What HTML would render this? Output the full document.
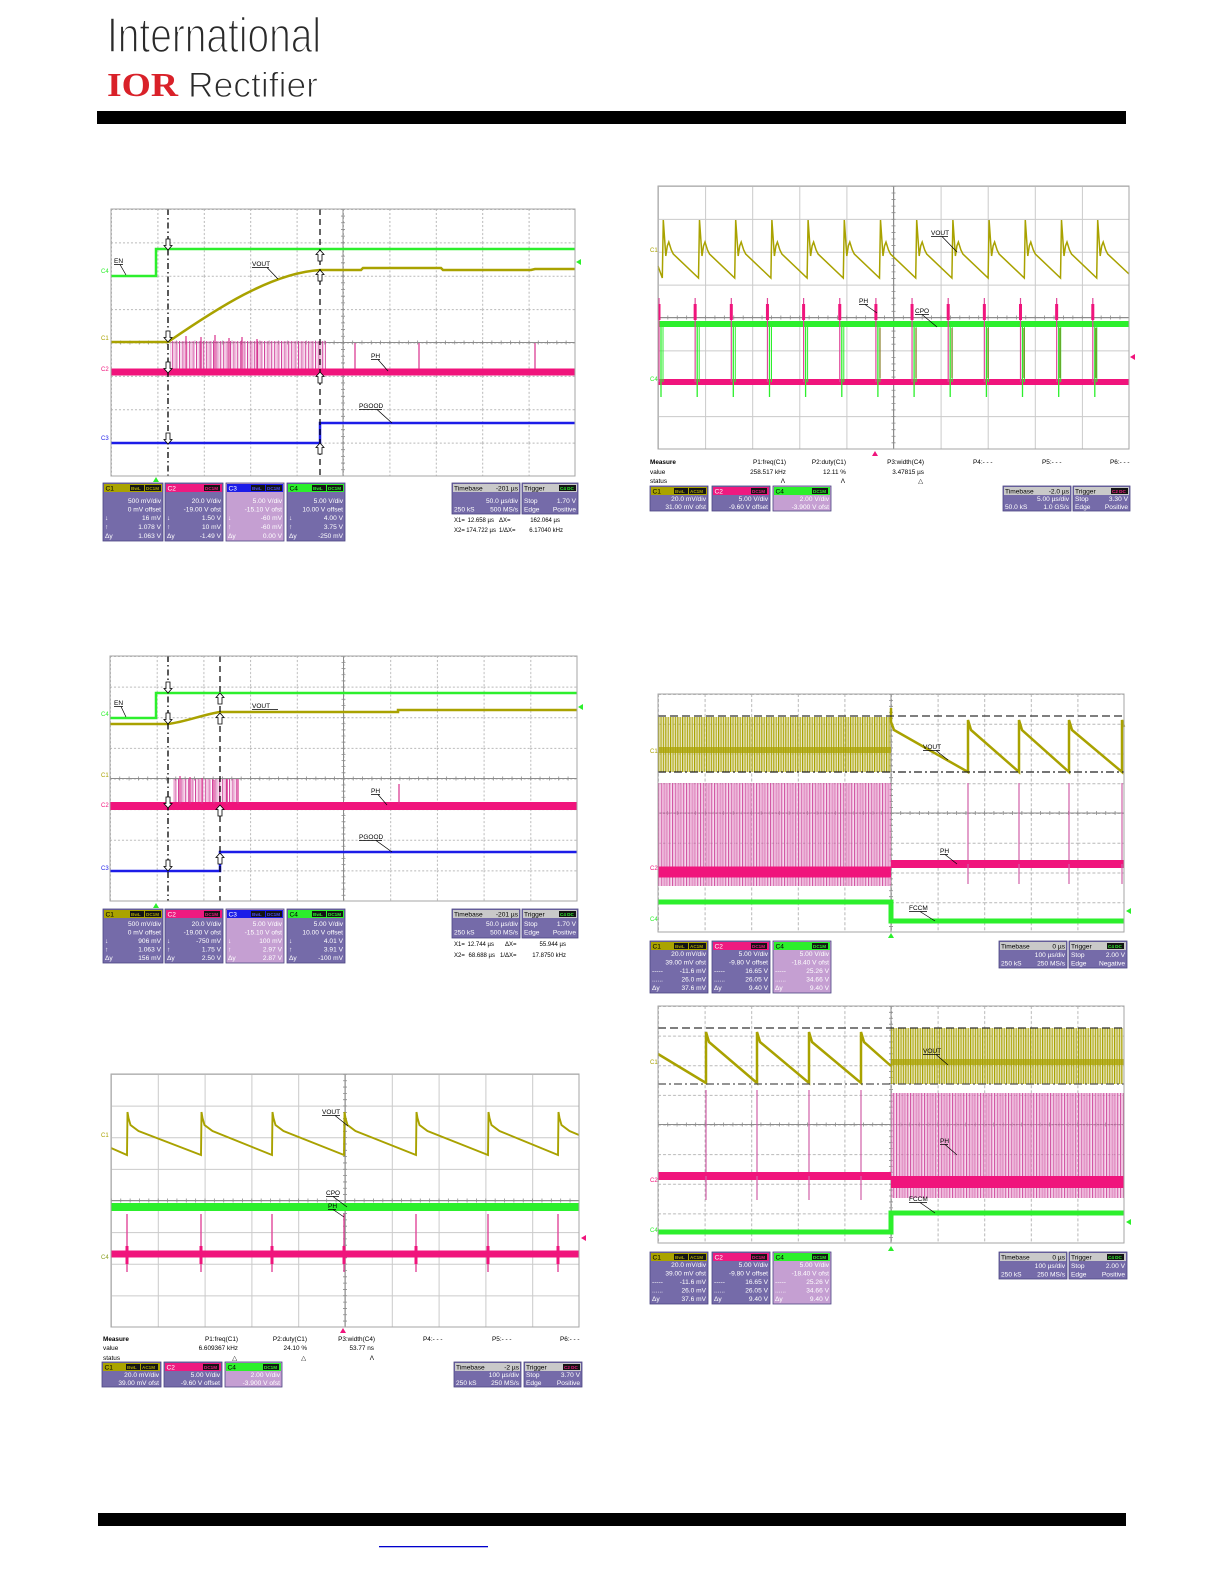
<!DOCTYPE html>
<html><head><meta charset="utf-8">
<style>
html,body{margin:0;padding:0;background:#fff;}
svg{display:block;}
.pt{font:6.6px "Liberation Sans",sans-serif;fill:#fff;}
.pe{text-anchor:end;}
.hd{font:6.6px "Liberation Sans",sans-serif;fill:#000;}
.hw{font:6.6px "Liberation Sans",sans-serif;fill:#fff;}
.bd{font:bold 4.6px "Liberation Sans",sans-serif;}
.mt{font:6.4px "Liberation Sans",sans-serif;fill:#000;}
.xt{font:6px "Liberation Sans",sans-serif;fill:#000;}
.mb{font:bold 6.4px "Liberation Sans",sans-serif;fill:#000;}
.lb{font:6.5px "Liberation Sans",sans-serif;fill:#000;}
.cl{font:6px "Liberation Sans",sans-serif;}
.pb{fill:#756ba9;stroke:#4b4583;stroke-width:.8;}
.pl{fill:#c59fd2;stroke:#4b4583;stroke-width:.8;}
.ax{stroke:#8c8c8c;stroke-width:1;}
.tk{stroke:#8c8c8c;stroke-width:4;}
.bx{fill:none;stroke:#a6a6a6;stroke-width:1;}
.ul{stroke:#000;stroke-width:.7;fill:none;}
.ol{stroke:#a9a200;fill:none;}
.pk{stroke:#f0147c;fill:none;}
.gr{stroke:#2cef2c;fill:none;}
.bl{stroke:#1c1ce8;fill:none;}
</style></head>
<body>
<svg width="1224" height="1584" viewBox="0 0 1224 1584" xmlns="http://www.w3.org/2000/svg">
<defs>
<pattern id="gA" width="46.4" height="33.375" patternUnits="userSpaceOnUse"><path d="M0.5,0V33.375M0,0.5H46.4" stroke="#b8b8b8" stroke-width="1" stroke-dasharray="2,2" fill="none"/></pattern>
<pattern id="gC" width="46.7" height="30.625" patternUnits="userSpaceOnUse"><path d="M0.5,0V30.625M0,0.5H46.7" stroke="#b8b8b8" stroke-width="1" stroke-dasharray="2,2" fill="none"/></pattern>
<pattern id="gB" width="47.1" height="32.875" patternUnits="userSpaceOnUse"><path d="M0.5,0V32.875M0,0.5H47.1" stroke="#cacaca" stroke-width="1" fill="none"/></pattern>
<pattern id="gD" width="46.8" height="31.625" patternUnits="userSpaceOnUse"><path d="M0.5,0V31.625M0,0.5H46.8" stroke="#cacaca" stroke-width="1" fill="none"/></pattern>
<pattern id="gE" width="46.6" height="29.75" patternUnits="userSpaceOnUse"><path d="M0.5,0V29.75M0,0.5H46.6" stroke="#b8b8b8" stroke-width="1" stroke-dasharray="3,2" fill="none"/></pattern>
<pattern id="gF" width="46.6" height="29.625" patternUnits="userSpaceOnUse"><path d="M0.5,0V29.625M0,0.5H46.6" stroke="#b8b8b8" stroke-width="1" stroke-dasharray="3,2" fill="none"/></pattern>
<pattern id="pkA" width="3.4" height="40" patternUnits="userSpaceOnUse"><rect width="1" height="40" fill="#d0409a"/><rect x="1.7" width="0.7" height="40" fill="#e89ccc"/></pattern>
<pattern id="dPk" width="2.8" height="40" patternUnits="userSpaceOnUse"><rect width="1" height="40" fill="#d050a0"/><rect x="1.4" width="0.8" height="40" fill="#e8a0d0"/></pattern>
<pattern id="dOl" width="2.4" height="40" patternUnits="userSpaceOnUse"><rect width="1.1" height="40" fill="#a9a200"/><rect x="1.2" width="0.6" height="40" fill="#cac670"/></pattern>
<g id="ad"><polygon points="-2,-11 2,-11 2,-4.5 4,-4.5 0,0 -4,-4.5 -2,-4.5" fill="#fff" stroke="#000" stroke-width=".8"/></g>
<g id="au"><polygon points="-2,11 2,11 2,4.5 4,4.5 0,0 -4,4.5 -2,4.5" fill="#fff" stroke="#000" stroke-width=".8"/></g>
</defs>

<!-- Logo -->
<text x="107" y="52" font-family="Liberation Sans, sans-serif" font-size="49" fill="#2a2a2a" stroke="#fff" stroke-width="1.6" textLength="214" lengthAdjust="spacingAndGlyphs">International</text>
<text x="107" y="96" font-family="Liberation Serif, serif" font-weight="bold" font-size="34" fill="#d92129" textLength="71" lengthAdjust="spacingAndGlyphs">IOR</text>
<text x="188" y="97" font-family="Liberation Sans, sans-serif" font-size="35" fill="#2a2a2a" stroke="#fff" stroke-width="1.1" textLength="130" lengthAdjust="spacingAndGlyphs">Rectifier</text>
<rect x="97" y="111" width="1029" height="13" fill="#000"/>
<rect x="98" y="1513" width="1028" height="13" fill="#000"/>
<rect x="379" y="1546" width="109" height="1.3" fill="#0000cc"/>

<!-- ===== Scope A ===== -->
<g transform="translate(111,209)">
<rect width="464" height="267" fill="url(#gA)"/>
<line x1="232" y1="0" x2="232" y2="267" class="ax"/>
<line x1="0" y1="133.5" x2="464" y2="133.5" class="ax"/>
<line x1="232" y1="0" x2="232" y2="267" class="tk" stroke-dasharray="0.8 5.875"/>
<line x1="0" y1="133.5" x2="464" y2="133.5" class="tk" stroke-dasharray="0.8 8.48"/>
<path d="M0,234H209V214H464" class="bl" stroke-width="2.5"/>
<rect x="59" y="132" width="156" height="29" fill="url(#pkA)"/>
<path d="M0,163H464" class="pk" stroke-width="7"/>
<path d="M75,160V127M90,160V128M104,160V126M118,160V129M131,160V128M146,160V130M244,160V134M308,160V134M424,160V134" stroke="#d8308c" stroke-width="1.2"/>
<path d="M0,133H57C105,100 160,64 209,61H250L252,59H330L332,61H420L424,60H464" class="ol" stroke-width="2.5"/>
<path d="M0,67H45V40H464" class="gr" stroke-width="2.5"/>
<line x1="57" y1="0" x2="57" y2="267" stroke="#000" stroke-width="1.3" stroke-dasharray="6,3,1.5,3"/>
<line x1="209" y1="0" x2="209" y2="267" stroke="#000" stroke-width="1.2" stroke-dasharray="6,4"/>
<use href="#ad" transform="translate(57,41)"/><use href="#ad" transform="translate(57,133)"/><use href="#ad" transform="translate(57,164)"/><use href="#ad" transform="translate(57,235)"/>
<use href="#au" transform="translate(209,41)"/><use href="#au" transform="translate(209,61)"/><use href="#au" transform="translate(209,163)"/><use href="#au" transform="translate(209,234)"/>
<text x="3" y="54" class="lb">EN</text><path d="M3,55.5H12M9,55.5L15,66" class="ul"/>
<text x="141" y="57" class="lb">VOUT</text><path d="M141,58.5H158M156,58.5L167,70" class="ul"/>
<text x="260" y="149" class="lb">PH</text><path d="M260,150.5H269M267,150.5L277,162" class="ul"/>
<text x="248" y="199" class="lb">PGOOD</text><path d="M248,200.5H271M266,200.5L281,214" class="ul"/>
<rect width="464" height="267" class="bx"/>
</g>
<text x="101" y="273" class="cl" fill="#2cef2c">C4</text>
<text x="101" y="340" class="cl" fill="#a9a200">C1</text>
<text x="101" y="371" class="cl" fill="#f0147c">C2</text>
<text x="101" y="440" class="cl" fill="#1c1ce8">C3</text>
<polygon points="153,482 159,482 156,477" fill="#2cef2c"/>
<polygon points="576,262 581,259 581,265" fill="#2cef2c"/>

<!-- Panel A -->
<g>
<rect x="103" y="483" width="60" height="58" class="pb"/><rect x="104" y="484" width="58" height="8" fill="#aaa300"/>
<text x="105.5" y="490.5" class="hd">C1</text>
<rect x="130" y="485" width="14" height="6" fill="#141414"/><text x="131" y="489.8" class="bd" fill="#aaa300">BwL</text>
<rect x="145" y="485" width="16" height="6" fill="#141414"/><text x="146" y="489.8" class="bd" fill="#aaa300">DC1M</text>
<text x="161" y="503" class="pt pe">500 mV/div</text><text x="161" y="511.5" class="pt pe">0 mV offset</text>
<text x="161" y="520" class="pt pe">16 mV</text><text x="161" y="529" class="pt pe">1.078 V</text><text x="161" y="538" class="pt pe">1.063 V</text>
<text x="105" y="520" class="pt">↓</text><text x="105" y="529" class="pt">↑</text><text x="105" y="538" class="pt">Δy</text>

<rect x="165" y="483" width="58" height="58" class="pb"/><rect x="166" y="484" width="56" height="8" fill="#ee1a80"/>
<text x="167.5" y="490.5" class="hw">C2</text>
<rect x="204" y="485" width="16" height="6" fill="#141414"/><text x="205" y="489.8" class="bd" fill="#ee1a80">DC1M</text>
<text x="221" y="503" class="pt pe">20.0 V/div</text><text x="221" y="511.5" class="pt pe">-19.00 V ofst</text>
<text x="221" y="520" class="pt pe">1.50 V</text><text x="221" y="529" class="pt pe">10 mV</text><text x="221" y="538" class="pt pe">-1.49 V</text>
<text x="167" y="520" class="pt">↓</text><text x="167" y="529" class="pt">↑</text><text x="167" y="538" class="pt">Δy</text>

<rect x="226" y="483" width="58" height="58" class="pl"/><rect x="227" y="484" width="56" height="8" fill="#1c1ce8"/>
<text x="228.5" y="490.5" class="hw">C3</text>
<rect x="251" y="485" width="14" height="6" fill="#141414"/><text x="252" y="489.8" class="bd" fill="#4a4af0">BwL</text>
<rect x="266" y="485" width="16" height="6" fill="#141414"/><text x="267" y="489.8" class="bd" fill="#4a4af0">DC1M</text>
<text x="282" y="503" class="pt pe">5.00 V/div</text><text x="282" y="511.5" class="pt pe">-15.10 V ofst</text>
<text x="282" y="520" class="pt pe">-60 mV</text><text x="282" y="529" class="pt pe">-60 mV</text><text x="282" y="538" class="pt pe">0.00 V</text>
<text x="228" y="520" class="pt">↓</text><text x="228" y="529" class="pt">↑</text><text x="228" y="538" class="pt">Δy</text>

<rect x="287" y="483" width="58" height="58" class="pb"/><rect x="288" y="484" width="56" height="8" fill="#2cef2c"/>
<text x="289.5" y="490.5" class="hd">C4</text>
<rect x="312" y="485" width="14" height="6" fill="#141414"/><text x="313" y="489.8" class="bd" fill="#2cef2c">BwL</text>
<rect x="327" y="485" width="16" height="6" fill="#141414"/><text x="328" y="489.8" class="bd" fill="#2cef2c">DC1M</text>
<text x="343" y="503" class="pt pe">5.00 V/div</text><text x="343" y="511.5" class="pt pe">10.00 V offset</text>
<text x="343" y="520" class="pt pe">4.00 V</text><text x="343" y="529" class="pt pe">3.75 V</text><text x="343" y="538" class="pt pe">-250 mV</text>
<text x="289" y="520" class="pt">↓</text><text x="289" y="529" class="pt">↑</text><text x="289" y="538" class="pt">Δy</text>

<rect x="452" y="483" width="68" height="31" class="pb"/><rect x="453" y="484" width="66" height="8" fill="#c9c9c9"/>
<text x="454" y="490.5" class="hd">Timebase</text><text x="518" y="490.5" class="hd pe">-201 µs</text>
<text x="518" y="503" class="pt pe">50.0 µs/div</text>
<text x="454" y="511.5" class="pt">250 kS</text><text x="518" y="511.5" class="pt pe">500 MS/s</text>
<rect x="522" y="483" width="56" height="31" class="pb"/><rect x="523" y="484" width="54" height="8" fill="#c9c9c9"/>
<text x="524" y="490.5" class="hd">Trigger</text>
<rect x="559" y="485" width="17" height="6" fill="#141414"/><text x="560" y="489.8" class="bd" fill="#2cef2c">C4 DC</text>
<text x="524" y="503" class="pt">Stop</text><text x="576" y="503" class="pt pe">1.70 V</text>
<text x="524" y="511.5" class="pt">Edge</text><text x="576" y="511.5" class="pt pe">Positive</text>
<text x="454" y="522" class="xt">X1=</text><text x="494" y="522" class="xt pe">12.658 µs</text><text x="499" y="522" class="xt">ΔX=</text><text x="560" y="522" class="xt pe">162.064 µs</text>
<text x="454" y="532" class="xt">X2=</text><text x="496" y="532" class="xt pe">174.722 µs</text><text x="499" y="532" class="xt">1/ΔX=</text><text x="563" y="532" class="xt pe">6.17040 kHz</text>
</g>

<!-- ===== Scope B ===== -->
<g transform="translate(658,186)">
<rect width="471" height="263" fill="url(#gB)"/>
<line x1="235.5" y1="0" x2="235.5" y2="263" class="ax"/>
<line x1="0" y1="131.5" x2="471" y2="131.5" class="ax"/>
<line x1="235.5" y1="0" x2="235.5" y2="263" class="tk" stroke-dasharray="0.8 5.775"/>
<line x1="0" y1="131.5" x2="471" y2="131.5" class="tk" stroke-dasharray="0.8 8.62"/>
<path d="M0,196H471" class="pk" stroke-width="6"/>
<path d="M0,138H471" class="gr" stroke-width="6"/>
<path d="M3,138V211M39.2,138V211M75.3,138V211M111.5,138V211M147.6,138V211M183.8,138V211M219.9,138V211M256.1,138V211M292.2,138V211M328.4,138V211M364.5,138V211M400.7,138V211M436.8,138V211" class="gr" stroke-width="1.3"/>
<path d="M5,138V196M41.2,138V196M77.3,138V196M113.5,138V196M149.6,138V196M185.8,138V196M221.9,138V196M258.1,138V196M294.2,138V196M330.4,138V196M366.5,138V196M402.7,138V196M438.8,138V196" class="gr" stroke-width="1"/>
<path d="M222,142V192M258,142V192M294,142V192M330,142V192M366,142V192M402,142V192M438,142V192" stroke="#8a7f2a" stroke-width="1.2"/>
<path d="M1,196V112M37.15,196V112M73.3,196V112M109.45,196V112M145.6,196V112M181.75,196V112M217.9,196V112M254.05,196V112M290.2,196V112M326.35,196V112M362.5,196V112M398.65,196V112M434.8,196V112" stroke="#e0479a" stroke-width="1.2"/>
<path d="M1,118V134M37.15,118V134M73.3,118V134M109.45,118V134M145.6,118V134M181.75,118V134M217.9,118V134M254.05,118V134M290.2,118V134M326.35,118V134M362.5,118V134M398.65,118V134M434.8,118V134" class="pk" stroke-width="3"/>
<path d="M0,80L4.3,92l1,-58l2.5,36l1.5,-10l1.5,-4l2.5,8l2,4l25.2,24l1,-58l2.5,36l1.5,-10l1.5,-4l2.5,8l2,4l25.2,24l1,-58l2.5,36l1.5,-10l1.5,-4l2.5,8l2,4l25.2,24l1,-58l2.5,36l1.5,-10l1.5,-4l2.5,8l2,4l25.2,24l1,-58l2.5,36l1.5,-10l1.5,-4l2.5,8l2,4l25.2,24l1,-58l2.5,36l1.5,-10l1.5,-4l2.5,8l2,4l25.2,24l1,-58l2.5,36l1.5,-10l1.5,-4l2.5,8l2,4l25.2,24l1,-58l2.5,36l1.5,-10l1.5,-4l2.5,8l2,4l25.2,24l1,-58l2.5,36l1.5,-10l1.5,-4l2.5,8l2,4l25.2,24l1,-58l2.5,36l1.5,-10l1.5,-4l2.5,8l2,4l25.2,24l1,-58l2.5,36l1.5,-10l1.5,-4l2.5,8l2,4l25.2,24l1,-58l2.5,36l1.5,-10l1.5,-4l2.5,8l2,4l25.2,24l1,-58l2.5,36l1.5,-10l1.5,-4l2.5,8l2,4l21.3,20" class="ol" stroke-width="1.5"/>
<text x="273" y="49" class="lb">VOUT</text><path d="M273,50.5H290M284,50.5L299,66" class="ul"/>
<text x="201" y="117" class="lb">PH</text><path d="M201,118.5H210M207,118.5L219,127" class="ul"/>
<text x="257" y="127" class="lb">CPO</text><path d="M257,128.5H271M264,128.5L279,141" class="ul"/>
<rect width="471" height="263" class="bx"/>
</g>
<text x="650" y="252" class="cl" fill="#a9a200">C1</text>
<text x="650" y="381" class="cl" fill="#2cef2c">C4</text>
<polygon points="1130,357 1135,354 1135,360" fill="#f0147c"/>
<polygon points="872,456 878,456 875,451" fill="#f0147c"/>
<text x="650" y="464" class="mb">Measure</text><text x="650" y="474" class="mt">value</text><text x="650" y="483" class="mt">status</text>
<text x="786" y="464" class="mt pe">P1:freq(C1)</text><text x="786" y="474" class="mt pe">258.517 kHz</text><text x="785" y="483" class="mt pe">Λ</text>
<text x="846" y="464" class="mt pe">P2:duty(C1)</text><text x="846" y="474" class="mt pe">12.11 %</text><text x="845" y="483" class="mt pe">Λ</text>
<text x="924" y="464" class="mt pe">P3:width(C4)</text><text x="924" y="474" class="mt pe">3.47815 µs</text><text x="923" y="483" class="mt pe">△</text>
<text x="973" y="464" class="mt">P4:- - -</text><text x="1042" y="464" class="mt">P5:- - -</text><text x="1110" y="464" class="mt">P6:- - -</text>
<!-- Panel B -->
<g>
<rect x="650" y="486" width="58" height="25" class="pb"/><rect x="651" y="487" width="56" height="8" fill="#aaa300"/>
<text x="652.5" y="493.5" class="hd">C1</text>
<rect x="674" y="488" width="14" height="6" fill="#141414"/><text x="675" y="492.8" class="bd" fill="#aaa300">BwL</text>
<rect x="689" y="488" width="17" height="6" fill="#141414"/><text x="690" y="492.8" class="bd" fill="#aaa300">AC1M</text>
<text x="706" y="501" class="pt pe">20.0 mV/div</text><text x="706" y="509" class="pt pe">31.00 mV ofst</text>
<rect x="712" y="486" width="58" height="25" class="pb"/><rect x="713" y="487" width="56" height="8" fill="#ee1a80"/>
<text x="714.5" y="493.5" class="hw">C2</text>
<rect x="751" y="488" width="16" height="6" fill="#141414"/><text x="752" y="492.8" class="bd" fill="#ee1a80">DC1M</text>
<text x="768" y="501" class="pt pe">5.00 V/div</text><text x="768" y="509" class="pt pe">-9.60 V offset</text>
<rect x="773" y="486" width="58" height="25" class="pl"/><rect x="774" y="487" width="56" height="8" fill="#2cef2c"/>
<text x="775.5" y="493.5" class="hd">C4</text>
<rect x="812" y="488" width="16" height="6" fill="#141414"/><text x="813" y="492.8" class="bd" fill="#2cef2c">DC1M</text>
<text x="829" y="501" class="pt pe">2.00 V/div</text><text x="829" y="509" class="pt pe">-3.900 V ofst</text>
<rect x="1003" y="486" width="68" height="25" class="pb"/><rect x="1004" y="487" width="66" height="8" fill="#c9c9c9"/>
<text x="1005" y="493.5" class="hd">Timebase</text><text x="1069" y="493.5" class="hd pe">-2.0 µs</text>
<text x="1069" y="501" class="pt pe">5.00 µs/div</text>
<text x="1005" y="509" class="pt">50.0 kS</text><text x="1069" y="509" class="pt pe">1.0 GS/s</text>
<rect x="1073" y="486" width="57" height="25" class="pb"/><rect x="1074" y="487" width="55" height="8" fill="#c9c9c9"/>
<text x="1075" y="493.5" class="hd">Trigger</text>
<rect x="1111" y="488" width="17" height="6" fill="#141414"/><text x="1112" y="492.8" class="bd" fill="#ee1a80">C2 DC</text>
<text x="1075" y="501" class="pt">Stop</text><text x="1128" y="501" class="pt pe">3.30 V</text>
<text x="1075" y="509" class="pt">Edge</text><text x="1128" y="509" class="pt pe">Positive</text>
</g>

<!-- ===== Scope C ===== -->
<g transform="translate(110,656)">
<rect width="467" height="245" fill="url(#gC)"/>
<line x1="233.5" y1="0" x2="233.5" y2="245" class="ax"/>
<line x1="0" y1="122.5" x2="467" y2="122.5" class="ax"/>
<line x1="233.5" y1="0" x2="233.5" y2="245" class="tk" stroke-dasharray="0.8 5.325"/>
<line x1="0" y1="122.5" x2="467" y2="122.5" class="tk" stroke-dasharray="0.8 8.54"/>
<path d="M0,215H110V196H467" class="bl" stroke-width="2.5"/>
<rect x="63" y="123" width="65" height="25" fill="url(#pkA)"/>
<path d="M0,150H467" class="pk" stroke-width="8"/>
<path d="M70,148V120M80,148V121M92,148V122M104,148V124M117,148V123M128,148V123M289,148V128" stroke="#d8308c" stroke-width="1.2"/>
<path d="M0,68H58C75,66 95,58 110,56H288V54H467" class="ol" stroke-width="2.5"/>
<path d="M0,62H46V37H467" class="gr" stroke-width="2.5"/>
<line x1="58" y1="0" x2="58" y2="245" stroke="#000" stroke-width="1.3" stroke-dasharray="6,3,1.5,3"/>
<line x1="110" y1="0" x2="110" y2="245" stroke="#000" stroke-width="1.2" stroke-dasharray="6,4"/>
<use href="#ad" transform="translate(58,37)"/><use href="#ad" transform="translate(58,68)"/><use href="#ad" transform="translate(58,152)"/><use href="#ad" transform="translate(58,215)"/>
<use href="#au" transform="translate(110,37)"/><use href="#au" transform="translate(110,57)"/><use href="#au" transform="translate(110,149)"/><use href="#au" transform="translate(110,197)"/>
<text x="4" y="49" class="lb">EN</text><path d="M4,50.5H13M11,50.5L16,61" class="ul"/>
<text x="142" y="52" class="lb">VOUT</text><path d="M142,53.5H168" class="ul"/>
<text x="261" y="137" class="lb">PH</text><path d="M261,138.5H270M268,138.5L277,149" class="ul"/>
<text x="249" y="183" class="lb">PGOOD</text><path d="M249,184.5H272M266,184.5L282,196" class="ul"/>
<rect width="467" height="245" class="bx"/>
</g>
<text x="101" y="716" class="cl" fill="#2cef2c">C4</text>
<text x="101" y="777" class="cl" fill="#a9a200">C1</text>
<text x="101" y="807" class="cl" fill="#f0147c">C2</text>
<text x="101" y="870" class="cl" fill="#1c1ce8">C3</text>
<polygon points="153,908 159,908 156,903" fill="#2cef2c"/>
<polygon points="578,707 583,704 583,710" fill="#2cef2c"/>
<!-- Panel C -->
<g>
<rect x="103" y="909" width="60" height="54" class="pb"/><rect x="104" y="910" width="58" height="8" fill="#aaa300"/>
<text x="105.5" y="916.5" class="hd">C1</text>
<rect x="130" y="911" width="14" height="6" fill="#141414"/><text x="131" y="915.8" class="bd" fill="#aaa300">BwL</text>
<rect x="145" y="911" width="16" height="6" fill="#141414"/><text x="146" y="915.8" class="bd" fill="#aaa300">DC1M</text>
<text x="161" y="926" class="pt pe">500 mV/div</text><text x="161" y="934.5" class="pt pe">0 mV offset</text>
<text x="161" y="943" class="pt pe">906 mV</text><text x="161" y="951.5" class="pt pe">1.063 V</text><text x="161" y="960" class="pt pe">156 mV</text>
<text x="105" y="943" class="pt">↓</text><text x="105" y="951.5" class="pt">↑</text><text x="105" y="960" class="pt">Δy</text>

<rect x="165" y="909" width="58" height="54" class="pb"/><rect x="166" y="910" width="56" height="8" fill="#ee1a80"/>
<text x="167.5" y="916.5" class="hw">C2</text>
<rect x="204" y="911" width="16" height="6" fill="#141414"/><text x="205" y="915.8" class="bd" fill="#ee1a80">DC1M</text>
<text x="221" y="926" class="pt pe">20.0 V/div</text><text x="221" y="934.5" class="pt pe">-19.00 V ofst</text>
<text x="221" y="943" class="pt pe">-750 mV</text><text x="221" y="951.5" class="pt pe">1.75 V</text><text x="221" y="960" class="pt pe">2.50 V</text>
<text x="167" y="943" class="pt">↓</text><text x="167" y="951.5" class="pt">↑</text><text x="167" y="960" class="pt">Δy</text>

<rect x="226" y="909" width="58" height="54" class="pl"/><rect x="227" y="910" width="56" height="8" fill="#1c1ce8"/>
<text x="228.5" y="916.5" class="hw">C3</text>
<rect x="251" y="911" width="14" height="6" fill="#141414"/><text x="252" y="915.8" class="bd" fill="#4a4af0">BwL</text>
<rect x="266" y="911" width="16" height="6" fill="#141414"/><text x="267" y="915.8" class="bd" fill="#4a4af0">DC1M</text>
<text x="282" y="926" class="pt pe">5.00 V/div</text><text x="282" y="934.5" class="pt pe">-15.10 V ofst</text>
<text x="282" y="943" class="pt pe">100 mV</text><text x="282" y="951.5" class="pt pe">2.97 V</text><text x="282" y="960" class="pt pe">2.87 V</text>
<text x="228" y="943" class="pt">↓</text><text x="228" y="951.5" class="pt">↑</text><text x="228" y="960" class="pt">Δy</text>

<rect x="287" y="909" width="58" height="54" class="pb"/><rect x="288" y="910" width="56" height="8" fill="#2cef2c"/>
<text x="289.5" y="916.5" class="hd">C4</text>
<rect x="312" y="911" width="14" height="6" fill="#141414"/><text x="313" y="915.8" class="bd" fill="#2cef2c">BwL</text>
<rect x="327" y="911" width="16" height="6" fill="#141414"/><text x="328" y="915.8" class="bd" fill="#2cef2c">DC1M</text>
<text x="343" y="926" class="pt pe">5.00 V/div</text><text x="343" y="934.5" class="pt pe">10.00 V offset</text>
<text x="343" y="943" class="pt pe">4.01 V</text><text x="343" y="951.5" class="pt pe">3.91 V</text><text x="343" y="960" class="pt pe">-100 mV</text>
<text x="289" y="943" class="pt">↓</text><text x="289" y="951.5" class="pt">↑</text><text x="289" y="960" class="pt">Δy</text>

<rect x="452" y="909" width="68" height="29" class="pb"/><rect x="453" y="910" width="66" height="8" fill="#c9c9c9"/>
<text x="454" y="916.5" class="hd">Timebase</text><text x="518" y="916.5" class="hd pe">-201 µs</text>
<text x="518" y="926" class="pt pe">50.0 µs/div</text>
<text x="454" y="934.5" class="pt">250 kS</text><text x="518" y="934.5" class="pt pe">500 MS/s</text>
<rect x="522" y="909" width="56" height="29" class="pb"/><rect x="523" y="910" width="54" height="8" fill="#c9c9c9"/>
<text x="524" y="916.5" class="hd">Trigger</text>
<rect x="559" y="911" width="17" height="6" fill="#141414"/><text x="560" y="915.8" class="bd" fill="#2cef2c">C4 DC</text>
<text x="524" y="926" class="pt">Stop</text><text x="576" y="926" class="pt pe">1.70 V</text>
<text x="524" y="934.5" class="pt">Edge</text><text x="576" y="934.5" class="pt pe">Positive</text>
<text x="454" y="946" class="xt">X1=</text><text x="494" y="946" class="xt pe">12.744 µs</text><text x="505" y="946" class="xt">ΔX=</text><text x="566" y="946" class="xt pe">55.944 µs</text>
<text x="454" y="957" class="xt">X2=</text><text x="495" y="957" class="xt pe">68.688 µs</text><text x="500" y="957" class="xt">1/ΔX=</text><text x="566" y="957" class="xt pe">17.8750 kHz</text>
</g>

<!-- ===== Scope D ===== -->
<g transform="translate(111,1074)">
<rect width="468" height="253" fill="url(#gD)"/>
<line x1="234" y1="0" x2="234" y2="253" class="ax"/>
<line x1="0" y1="126.5" x2="468" y2="126.5" class="ax"/>
<line x1="234" y1="0" x2="234" y2="253" class="tk" stroke-dasharray="0.8 5.525"/>
<line x1="0" y1="126.5" x2="468" y2="126.5" class="tk" stroke-dasharray="0.8 8.56"/>
<path d="M0,133H468" class="gr" stroke-width="8"/>
<path d="M0,180H468" class="pk" stroke-width="7"/>
<path d="M16,140V198M90,140V198M161,140V198M233,140V198M305,140V198M377,140V198M447,140V198" stroke="#e0479a" stroke-width="1.4"/>
<path d="M16,172V190M90,172V190M161,172V190M233,172V190M305,172V190M377,172V190M447,172V190" class="pk" stroke-width="3"/>
<path d="M0,74L16,81l0.5,-43l1,6l2,7l8,6l62.5,24l0.5,-43l1,6l2,7l8,6l59.5,24l0.5,-43l1,6l2,7l8,6l60.5,24l0.5,-43l1,6l2,7l8,6l60.5,24l0.5,-43l1,6l2,7l8,6l60.5,24l0.5,-43l1,6l2,7l8,6l58.5,24l0.5,-43l1,6l2,7l8,6l9.5,4" class="ol" stroke-width="1.9"/>
<text x="211" y="40" class="lb">VOUT</text><path d="M211,41.5H229M224,41.5L237,52" class="ul"/>
<text x="215" y="121" class="lb">CPO</text><path d="M215,122.5H228M222,122.5L236,133" class="ul"/>
<text x="217" y="134" class="lb">PH</text><path d="M217,135.5H225M222,135.5L233,143" class="ul"/>
<rect width="468" height="253" class="bx"/>
</g>
<text x="101" y="1137" class="cl" fill="#a9a200">C1</text>
<text x="101" y="1259" class="cl" fill="#8aa020">C4</text>
<polygon points="581,1238 586,1235 586,1241" fill="#f0147c"/>
<polygon points="340,1333 346,1333 343,1328" fill="#f0147c"/>
<text x="103" y="1341" class="mb">Measure</text><text x="103" y="1350" class="mt">value</text><text x="103" y="1360" class="mt">status</text>
<text x="238" y="1341" class="mt pe">P1:freq(C1)</text><text x="238" y="1350" class="mt pe">6.609367 kHz</text><text x="237" y="1360" class="mt pe">△</text>
<text x="307" y="1341" class="mt pe">P2:duty(C1)</text><text x="307" y="1350" class="mt pe">24.10 %</text><text x="306" y="1360" class="mt pe">△</text>
<text x="375" y="1341" class="mt pe">P3:width(C4)</text><text x="374" y="1350" class="mt pe">53.77 ns</text><text x="374" y="1360" class="mt pe">Λ</text>
<text x="423" y="1341" class="mt">P4:- - -</text><text x="492" y="1341" class="mt">P5:- - -</text><text x="560" y="1341" class="mt">P6:- - -</text>
<!-- Panel D -->
<g>
<rect x="102" y="1362" width="59" height="25" class="pb"/><rect x="103" y="1363" width="57" height="8" fill="#aaa300"/>
<text x="104.5" y="1369.5" class="hd">C1</text>
<rect x="126" y="1364" width="14" height="6" fill="#141414"/><text x="127" y="1368.8" class="bd" fill="#aaa300">BwL</text>
<rect x="141" y="1364" width="17" height="6" fill="#141414"/><text x="142" y="1368.8" class="bd" fill="#aaa300">AC1M</text>
<text x="159" y="1377" class="pt pe">20.0 mV/div</text><text x="159" y="1385" class="pt pe">39.00 mV ofst</text>
<rect x="164" y="1362" width="58" height="25" class="pb"/><rect x="165" y="1363" width="56" height="8" fill="#ee1a80"/>
<text x="166.5" y="1369.5" class="hw">C2</text>
<rect x="203" y="1364" width="16" height="6" fill="#141414"/><text x="204" y="1368.8" class="bd" fill="#ee1a80">DC1M</text>
<text x="220" y="1377" class="pt pe">5.00 V/div</text><text x="220" y="1385" class="pt pe">-9.60 V offset</text>
<rect x="225" y="1362" width="57" height="25" class="pl"/><rect x="226" y="1363" width="55" height="8" fill="#2cef2c"/>
<text x="227.5" y="1369.5" class="hd">C4</text>
<rect x="263" y="1364" width="16" height="6" fill="#141414"/><text x="264" y="1368.8" class="bd" fill="#2cef2c">DC1M</text>
<text x="280" y="1377" class="pt pe">2.00 V/div</text><text x="280" y="1385" class="pt pe">-3.900 V ofst</text>
<rect x="454" y="1362" width="67" height="25" class="pb"/><rect x="455" y="1363" width="65" height="8" fill="#c9c9c9"/>
<text x="456" y="1369.5" class="hd">Timebase</text><text x="519" y="1369.5" class="hd pe">-2 µs</text>
<text x="519" y="1377" class="pt pe">100 µs/div</text>
<text x="456" y="1385" class="pt">250 kS</text><text x="519" y="1385" class="pt pe">250 MS/s</text>
<rect x="524" y="1362" width="58" height="25" class="pb"/><rect x="525" y="1363" width="56" height="8" fill="#c9c9c9"/>
<text x="526" y="1369.5" class="hd">Trigger</text>
<rect x="563" y="1364" width="17" height="6" fill="#141414"/><text x="564" y="1368.8" class="bd" fill="#ee1a80">C2 DC</text>
<text x="526" y="1377" class="pt">Stop</text><text x="580" y="1377" class="pt pe">3.70 V</text>
<text x="526" y="1385" class="pt">Edge</text><text x="580" y="1385" class="pt pe">Positive</text>
</g>

<!-- ===== Scope E ===== -->
<g transform="translate(658,694)">
<rect width="466" height="238" fill="url(#gE)"/>
<line x1="233" y1="0" x2="233" y2="238" class="ax"/>
<line x1="0" y1="119" x2="466" y2="119" class="ax"/>
<line x1="233" y1="0" x2="233" y2="238" class="tk" stroke-dasharray="0.8 5.15"/>
<line x1="0" y1="119" x2="466" y2="119" class="tk" stroke-dasharray="0.8 8.52"/>
<path d="M0,208H233V227H466" class="gr" stroke-width="5"/>
<rect x="0" y="89" width="233" height="84" fill="url(#dPk)"/>
<rect x="0" y="183" width="233" height="9" fill="url(#dPk)"/>
<path d="M0,178H233" class="pk" stroke-width="11"/>
<path d="M233,170H466" class="pk" stroke-width="8"/>
<path d="M310,166V89M361,166V89M411,166V89M464,166V89M310,170V190M361,170V190M411,170V190M464,170V190" stroke="#d060a8" stroke-width="1.2"/>
<rect x="0" y="23" width="233" height="55" fill="url(#dOl)"/>
<path d="M0,56H233" class="ol" stroke-width="6" opacity="0.75"/>
<path d="M233,14L233,28L236,36L310,78V26L313,36L361,78V26L364,36L411,78V26L414,36L464,78V26L466,33" class="ol" stroke-width="2.5"/>
<path d="M0,22H466" stroke="#333" stroke-width="1.2" stroke-dasharray="8,4"/>
<path d="M0,78H466" stroke="#222" stroke-width="1.2" stroke-dasharray="8,3,2,3"/>
<text x="265" y="55" class="lb">VOUT</text><path d="M265,56.5H282M278,56.5L290,66" class="ul"/>
<text x="282" y="159" class="lb">PH</text><path d="M282,160.5H290M287,160.5L299,170" class="ul"/>
<text x="251" y="216" class="lb">FCCM</text><path d="M251,217.5H269M262,217.5L277,227" class="ul"/>
<rect width="466" height="238" class="bx"/>
</g>
<text x="650" y="753" class="cl" fill="#a9a200">C1</text>
<text x="650" y="870" class="cl" fill="#f0147c">C2</text>
<text x="650" y="921" class="cl" fill="#2cef2c">C4</text>
<polygon points="888,938 894,938 891,933" fill="#2cef2c"/>
<polygon points="1126,911 1131,908 1131,914" fill="#2cef2c"/>
<!-- Panel E -->
<g>
<rect x="650" y="941" width="58" height="52" class="pb"/><rect x="651" y="942" width="56" height="8" fill="#aaa300"/>
<text x="652.5" y="948.5" class="hd">C1</text>
<rect x="674" y="943" width="14" height="6" fill="#141414"/><text x="675" y="947.8" class="bd" fill="#aaa300">BwL</text>
<rect x="689" y="943" width="17" height="6" fill="#141414"/><text x="690" y="947.8" class="bd" fill="#aaa300">AC1M</text>
<text x="706" y="956" class="pt pe">20.0 mV/div</text><text x="706" y="964.5" class="pt pe">39.00 mV ofst</text>
<text x="706" y="973" class="pt pe">-11.6 mV</text><text x="706" y="981.5" class="pt pe">26.0 mV</text><text x="706" y="990" class="pt pe">37.6 mV</text>
<text x="652" y="973" class="pt">-----</text><text x="652" y="981.5" class="pt">......</text><text x="652" y="990" class="pt">Δy</text>
<rect x="712" y="941" width="58" height="52" class="pb"/><rect x="713" y="942" width="56" height="8" fill="#ee1a80"/>
<text x="714.5" y="948.5" class="hw">C2</text>
<rect x="751" y="943" width="16" height="6" fill="#141414"/><text x="752" y="947.8" class="bd" fill="#ee1a80">DC1M</text>
<text x="768" y="956" class="pt pe">5.00 V/div</text><text x="768" y="964.5" class="pt pe">-9.80 V offset</text>
<text x="768" y="973" class="pt pe">16.65 V</text><text x="768" y="981.5" class="pt pe">26.05 V</text><text x="768" y="990" class="pt pe">9.40 V</text>
<text x="714" y="973" class="pt">-----</text><text x="714" y="981.5" class="pt">......</text><text x="714" y="990" class="pt">Δy</text>
<rect x="773" y="941" width="58" height="52" class="pl"/><rect x="774" y="942" width="56" height="8" fill="#2cef2c"/>
<text x="775.5" y="948.5" class="hd">C4</text>
<rect x="812" y="943" width="16" height="6" fill="#141414"/><text x="813" y="947.8" class="bd" fill="#2cef2c">DC1M</text>
<text x="829" y="956" class="pt pe">5.00 V/div</text><text x="829" y="964.5" class="pt pe">-18.40 V ofst</text>
<text x="829" y="973" class="pt pe">25.26 V</text><text x="829" y="981.5" class="pt pe">34.66 V</text><text x="829" y="990" class="pt pe">9.40 V</text>
<text x="775" y="973" class="pt">-----</text><text x="775" y="981.5" class="pt">......</text><text x="775" y="990" class="pt">Δy</text>
<rect x="999" y="941" width="68" height="27" class="pb"/><rect x="1000" y="942" width="66" height="8" fill="#c9c9c9"/>
<text x="1001" y="948.5" class="hd">Timebase</text><text x="1065" y="948.5" class="hd pe">0 µs</text>
<text x="1065" y="957" class="pt pe">100 µs/div</text>
<text x="1001" y="965.5" class="pt">250 kS</text><text x="1065" y="965.5" class="pt pe">250 MS/s</text>
<rect x="1069" y="941" width="58" height="27" class="pb"/><rect x="1070" y="942" width="56" height="8" fill="#c9c9c9"/>
<text x="1071" y="948.5" class="hd">Trigger</text>
<rect x="1107" y="943" width="17" height="6" fill="#141414"/><text x="1108" y="947.8" class="bd" fill="#2cef2c">C4 DC</text>
<text x="1071" y="957" class="pt">Stop</text><text x="1125" y="957" class="pt pe">2.00 V</text>
<text x="1071" y="965.5" class="pt">Edge</text><text x="1125" y="965.5" class="pt pe">Negative</text>
</g>

<!-- ===== Scope F ===== -->
<g transform="translate(658,1006)">
<rect width="466" height="237" fill="url(#gF)"/>
<line x1="233" y1="0" x2="233" y2="237" class="ax"/>
<line x1="0" y1="118.5" x2="466" y2="118.5" class="ax"/>
<line x1="233" y1="0" x2="233" y2="237" class="tk" stroke-dasharray="0.8 5.125"/>
<line x1="0" y1="118.5" x2="466" y2="118.5" class="tk" stroke-dasharray="0.8 8.52"/>
<path d="M0,226H233V207H466" class="gr" stroke-width="5"/>
<rect x="233" y="87" width="233" height="89" fill="url(#dPk)"/>
<rect x="233" y="181" width="233" height="11" fill="url(#dPk)"/>
<path d="M233,176H466" class="pk" stroke-width="12"/>
<path d="M0,170H233" class="pk" stroke-width="8"/>
<path d="M48,166V84M99,166V84M151,166V84M203,166V84M48,170V194M99,170V194M151,170V194M203,170V194" stroke="#d060a8" stroke-width="1.2"/>
<rect x="233" y="22" width="233" height="56" fill="url(#dOl)"/>
<path d="M233,56H466" class="ol" stroke-width="6" opacity="0.75"/>
<path d="M0,48L48,77V26L51,36L99,77V26L102,36L151,77V26L154,36L203,77V26L206,36L233,60" class="ol" stroke-width="2.5"/>
<path d="M0,22H466" stroke="#333" stroke-width="1.2" stroke-dasharray="8,4"/>
<path d="M0,78H466" stroke="#555" stroke-width="1.2" stroke-dasharray="8,3,2,3"/>
<text x="265" y="47" class="lb">VOUT</text><path d="M265,48.5H282M278,48.5L290,59" class="ul"/>
<text x="282" y="137" class="lb">PH</text><path d="M282,138.5H290M287,138.5L299,149" class="ul"/>
<text x="251" y="195" class="lb">FCCM</text><path d="M251,196.5H269M262,196.5L277,207" class="ul"/>
<rect width="466" height="237" class="bx"/>
</g>
<text x="650" y="1064" class="cl" fill="#a9a200">C1</text>
<text x="650" y="1182" class="cl" fill="#f0147c">C2</text>
<text x="650" y="1232" class="cl" fill="#2cef2c">C4</text>
<polygon points="888,1251 894,1251 891,1246" fill="#2cef2c"/>
<polygon points="1126,1222 1131,1219 1131,1225" fill="#2cef2c"/>
<!-- Panel F -->
<g>
<rect x="650" y="1252" width="58" height="52" class="pb"/><rect x="651" y="1253" width="56" height="8" fill="#aaa300"/>
<text x="652.5" y="1259.5" class="hd">C1</text>
<rect x="674" y="1254" width="14" height="6" fill="#141414"/><text x="675" y="1258.8" class="bd" fill="#aaa300">BwL</text>
<rect x="689" y="1254" width="17" height="6" fill="#141414"/><text x="690" y="1258.8" class="bd" fill="#aaa300">AC1M</text>
<text x="706" y="1267" class="pt pe">20.0 mV/div</text><text x="706" y="1275.5" class="pt pe">39.00 mV ofst</text>
<text x="706" y="1284" class="pt pe">-11.6 mV</text><text x="706" y="1292.5" class="pt pe">26.0 mV</text><text x="706" y="1301" class="pt pe">37.6 mV</text>
<text x="652" y="1284" class="pt">-----</text><text x="652" y="1292.5" class="pt">......</text><text x="652" y="1301" class="pt">Δy</text>
<rect x="712" y="1252" width="58" height="52" class="pb"/><rect x="713" y="1253" width="56" height="8" fill="#ee1a80"/>
<text x="714.5" y="1259.5" class="hw">C2</text>
<rect x="751" y="1254" width="16" height="6" fill="#141414"/><text x="752" y="1258.8" class="bd" fill="#ee1a80">DC1M</text>
<text x="768" y="1267" class="pt pe">5.00 V/div</text><text x="768" y="1275.5" class="pt pe">-9.80 V offset</text>
<text x="768" y="1284" class="pt pe">16.65 V</text><text x="768" y="1292.5" class="pt pe">26.05 V</text><text x="768" y="1301" class="pt pe">9.40 V</text>
<text x="714" y="1284" class="pt">-----</text><text x="714" y="1292.5" class="pt">......</text><text x="714" y="1301" class="pt">Δy</text>
<rect x="773" y="1252" width="58" height="52" class="pl"/><rect x="774" y="1253" width="56" height="8" fill="#2cef2c"/>
<text x="775.5" y="1259.5" class="hd">C4</text>
<rect x="812" y="1254" width="16" height="6" fill="#141414"/><text x="813" y="1258.8" class="bd" fill="#2cef2c">DC1M</text>
<text x="829" y="1267" class="pt pe">5.00 V/div</text><text x="829" y="1275.5" class="pt pe">-18.40 V ofst</text>
<text x="829" y="1284" class="pt pe">25.26 V</text><text x="829" y="1292.5" class="pt pe">34.66 V</text><text x="829" y="1301" class="pt pe">9.40 V</text>
<text x="775" y="1284" class="pt">-----</text><text x="775" y="1292.5" class="pt">......</text><text x="775" y="1301" class="pt">Δy</text>
<rect x="999" y="1252" width="68" height="27" class="pb"/><rect x="1000" y="1253" width="66" height="8" fill="#c9c9c9"/>
<text x="1001" y="1259.5" class="hd">Timebase</text><text x="1065" y="1259.5" class="hd pe">0 µs</text>
<text x="1065" y="1268" class="pt pe">100 µs/div</text>
<text x="1001" y="1276.5" class="pt">250 kS</text><text x="1065" y="1276.5" class="pt pe">250 MS/s</text>
<rect x="1069" y="1252" width="58" height="27" class="pb"/><rect x="1070" y="1253" width="56" height="8" fill="#c9c9c9"/>
<text x="1071" y="1259.5" class="hd">Trigger</text>
<rect x="1107" y="1254" width="17" height="6" fill="#141414"/><text x="1108" y="1258.8" class="bd" fill="#2cef2c">C4 DC</text>
<text x="1071" y="1268" class="pt">Stop</text><text x="1125" y="1268" class="pt pe">2.00 V</text>
<text x="1071" y="1276.5" class="pt">Edge</text><text x="1125" y="1276.5" class="pt pe">Positive</text>
</g>
</svg>
</body></html>
